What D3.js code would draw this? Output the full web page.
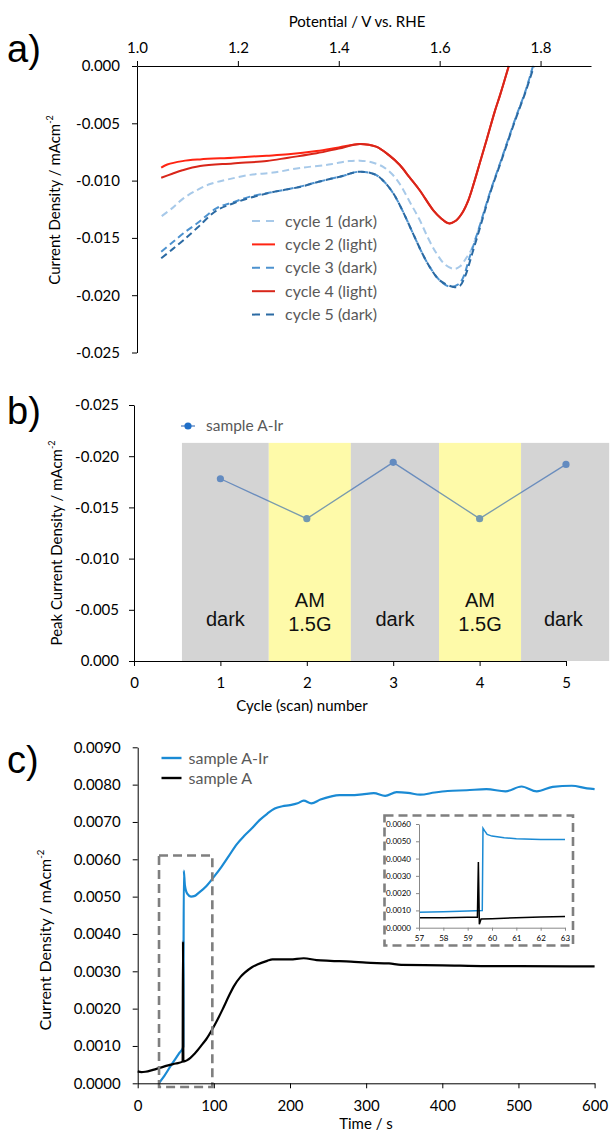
<!DOCTYPE html>
<html>
<head>
<meta charset="utf-8">
<script src="https://cdn.jsdelivr.net/npm/d3@7"></script>
<style>
body { margin: 0; background: #fff; }
svg text { font-family: Lato, sans-serif; }
</style>
</head>
<body>
<svg width="610" height="1132"></svg>
<script>
var svg = d3.select("svg");

// ---- panel a: cyclic scans (potential V, current density mA/cm2)
var cycleNames = ["cycle 1 (dark)", "cycle 2 (light)", "cycle 3 (dark)", "cycle 4 (light)", "cycle 5 (dark)"];
var cycleColors = ["#a7c9e9", "#ff2412", "#4d92cf", "#d8261a", "#2b6aa3"];
var cycleDashed = [true, false, true, false, true];

var cycle1V = [1.049, 1.07, 1.092, 1.12, 1.145, 1.18, 1.224, 1.27, 1.323, 1.38, 1.42, 1.442, 1.465, 1.488, 1.505, 1.521, 1.54, 1.56, 1.578, 1.593, 1.61, 1.628, 1.64, 1.652, 1.662, 1.679, 1.70, 1.722, 1.75, 1.77, 1.785];
var cycle1J = [-0.0131, -0.0124, -0.01155, -0.0108, -0.0103, -0.0099, -0.0095, -0.0093, -0.0089, -0.0086, -0.0083, -0.00826, -0.0084, -0.0088, -0.0094, -0.0103, -0.0118, -0.0134, -0.0151, -0.0163, -0.0173, -0.0177, -0.0175, -0.0168, -0.0161, -0.0140, -0.0110, -0.0082, -0.0046, -0.0022, 0];

var cycle2V = [1.048, 1.06, 1.09, 1.125, 1.19, 1.257, 1.30, 1.356, 1.40, 1.442, 1.474, 1.50, 1.521, 1.54, 1.56, 1.587, 1.603, 1.618, 1.632, 1.645, 1.657, 1.668, 1.68, 1.694, 1.709, 1.72, 1.737];
var cycle2J = [-0.00887, -0.0086, -0.0083, -0.00815, -0.0080, -0.00783, -0.0077, -0.00742, -0.0071, -0.0068, -0.00704, -0.0078, -0.00864, -0.0097, -0.01082, -0.01257, -0.0133, -0.01373, -0.0135, -0.0128, -0.0117, -0.0102, -0.0084, -0.0063, -0.0040, -0.0025, 0];

var cycle3V = [1.048, 1.07, 1.092, 1.12, 1.158, 1.19, 1.224, 1.27, 1.323, 1.36, 1.402, 1.442, 1.474, 1.49, 1.508, 1.525, 1.547, 1.565, 1.58, 1.60, 1.62, 1.635, 1.645, 1.66, 1.679, 1.70, 1.722, 1.75, 1.77, 1.785];
var cycle3J = [-0.0162, -0.0154, -0.0146, -0.0137, -0.0124, -0.0119, -0.0114, -0.0110, -0.01053, -0.0101, -0.00966, -0.00922, -0.00951, -0.0101, -0.01111, -0.0125, -0.0146, -0.0163, -0.01751, -0.0187, -0.01926, -0.0191, -0.0186, -0.0166, -0.0140, -0.0110, -0.0082, -0.0046, -0.0022, 0];

var cycle4V = [1.048, 1.07, 1.09, 1.125, 1.19, 1.257, 1.30, 1.356, 1.40, 1.442, 1.474, 1.50, 1.521, 1.54, 1.56, 1.587, 1.603, 1.618, 1.632, 1.645, 1.657, 1.668, 1.68, 1.694, 1.709, 1.72, 1.737];
var cycle4J = [-0.00975, -0.0094, -0.0091, -0.00873, -0.0085, -0.00829, -0.0080, -0.00762, -0.0072, -0.0068, -0.00704, -0.0078, -0.00864, -0.0097, -0.01082, -0.01257, -0.0133, -0.01373, -0.0135, -0.0128, -0.0117, -0.0102, -0.0084, -0.0063, -0.0040, -0.0025, 0];

var cycle5V = [1.048, 1.07, 1.092, 1.12, 1.158, 1.19, 1.224, 1.27, 1.323, 1.36, 1.402, 1.442, 1.474, 1.49, 1.508, 1.525, 1.547, 1.565, 1.58, 1.60, 1.63, 1.64, 1.65, 1.665, 1.682, 1.70, 1.722, 1.75, 1.77, 1.787];
var cycle5J = [-0.01678, -0.0160, -0.0152, -0.0141, -0.0126, -0.0120, -0.0115, -0.0110, -0.01055, -0.0101, -0.00966, -0.00922, -0.00951, -0.0101, -0.01111, -0.0125, -0.0146, -0.0163, -0.01751, -0.0187, -0.0193, -0.0192, -0.0184, -0.0163, -0.0138, -0.0111, -0.0083, -0.0047, -0.0023, 0];

var potentialTicks = [1.0, 1.2, 1.4, 1.6, 1.8];
var densityTicksA = [0, -0.005, -0.010, -0.015, -0.020, -0.025];

// ---- panel b: peak current per cycle
var cycleNumbers = [1, 2, 3, 4, 5];
var peakCurrent = [-0.0178, -0.0139, -0.0194, -0.0139, -0.0192];
var bandStart = [0.555, 1.56, 2.51, 3.53, 4.48];
var bandEnd = [1.56, 2.51, 3.53, 4.48, 5.5];
var bandType = ["dark", "light", "dark", "light", "dark"];
var bandTop = -0.0213;
var cycleTicks = [0, 1, 2, 3, 4, 5];
var densityTicksB = [0, -0.005, -0.010, -0.015, -0.020, -0.025];

// ---- panel c: chronoamperometry (time s, current density mA/cm2)
var timeAIr = [27.7, 35, 45, 55, 60, 60.5, 62, 65, 70, 75, 80, 90, 100, 110, 120, 130, 140, 150, 160, 170, 180, 190, 200, 210, 218, 228, 240, 253, 265, 280, 295, 310, 325, 340, 355, 371, 390, 407, 432, 458, 483, 504, 524, 545, 570, 590, 600];
var jAIr = [0, 0.0002, 0.00052, 0.00082, 0.00098, 0.0057, 0.0053, 0.00508, 0.0050, 0.00502, 0.0051, 0.00528, 0.00553, 0.0058, 0.0061, 0.0064, 0.00663, 0.00683, 0.00705, 0.00722, 0.00736, 0.00742, 0.00745, 0.0075, 0.00757, 0.0075, 0.0076, 0.00768, 0.00772, 0.00772, 0.00774, 0.00777, 0.0077, 0.0078, 0.00778, 0.00773, 0.00779, 0.00783, 0.00785, 0.00788, 0.00782, 0.00795, 0.00782, 0.00794, 0.00797, 0.0079, 0.00788];

var timeA = [0, 5, 10, 20, 30, 40, 50, 59, 59.5, 60, 65, 75, 85, 90, 100, 111, 120, 126, 135, 141, 150, 157, 170, 177, 200, 218, 235, 253, 280, 300, 330, 346, 400, 458, 500, 600];
var jA = [0.00032, 0.0003, 0.00031, 0.00036, 0.00042, 0.00048, 0.00053, 0.00058, 0.0038, 0.00058, 0.00062, 0.0008, 0.00105, 0.00118, 0.00152, 0.00196, 0.00235, 0.00259, 0.00285, 0.00297, 0.00311, 0.00318, 0.00328, 0.00332, 0.00332, 0.00335, 0.0033, 0.00328, 0.00326, 0.00323, 0.00321, 0.00317, 0.00316, 0.00314, 0.00314, 0.00313];

var timeTicks = [0, 100, 200, 300, 400, 500, 600];
var densityTicksC = [0, 0.001, 0.002, 0.003, 0.004, 0.005, 0.006, 0.007, 0.008, 0.009];
var zoomWindow = [28, 98, -0.0001, 0.0061]; // t0, t1, j0, j1

// inset (zoom around light switch-on)
var insetTimeAIr = [57, 58, 59, 59.6, 59.63, 59.7, 59.8, 60, 60.5, 61, 62, 63];
var insetJAIr = [0.0009, 0.00092, 0.00096, 0.001, 0.00575, 0.0056, 0.0054, 0.0053, 0.0052, 0.00515, 0.0051, 0.0051];
var insetTimeA = [57, 58, 59, 59.4, 59.44, 59.48, 59.55, 60, 61, 62, 63];
var insetJA = [0.00058, 0.00058, 0.0006, 0.0006, 0.0038, 0.0002, 0.0005, 0.00052, 0.00058, 0.00062, 0.00065];
var insetTimeTicks = [57, 58, 59, 60, 61, 62, 63];
var insetDensityTicks = [0, 0.001, 0.002, 0.003, 0.004, 0.005, 0.006];

var seriesNamesC = ["sample A-Ir", "sample A"];
var seriesColorsC = ["#1a8ad4", "#000000"];


function zip(xs, ys) {
    return xs.map(function(x, i) { return [x, ys[i]]; });
}

function styleAxis(g, size, color) {
    g.attr("font-family", "Lato, sans-serif").attr("font-size", size);
    g.select(".domain").attr("stroke", color || "#000");
    g.selectAll(".tick line").attr("stroke", color || "#000");
    g.selectAll(".tick text").attr("fill", "#000");
}

// y title with superscript -2
function yTitle(x, y, label, size) {
    var t = svg.append("text")
        .attr("transform", "translate(" + x + "," + y + ") rotate(-90)")
        .attr("text-anchor", "middle")
        .attr("font-size", size)
        .attr("fill", "#000");
    t.append("tspan").text(label);
    t.append("tspan").attr("font-size", size * 0.6).attr("dy", -size * 0.45).text("-2");
}

function panelLabel(x, y, txt) {
    svg.append("text").attr("x", x).attr("y", y)
        .style("font-family", "'Liberation Sans', Arial, sans-serif")
        .attr("font-size", 38).text(txt);
}

/*
 * panel a
 */
var xa = d3.scaleLinear().domain([1.0, 1.9]).range([137, 591]);
var ya = d3.scaleLinear().domain([0, -0.025]).range([66, 352.5]);

var lineA = d3.line()
    .x(function(d) { return xa(d[0]); })
    .y(function(d) { return ya(d[1]); })
    .curve(d3.curveCatmullRom.alpha(0.5));

var cycleData = [zip(cycle1V, cycle1J), zip(cycle2V, cycle2J), zip(cycle3V, cycle3J), zip(cycle4V, cycle4J), zip(cycle5V, cycle5J)];

svg.append("g").attr("class", "cycles")
    .selectAll("path")
    .data(cycleData)
    .enter().append("path")
    .attr("d", lineA)
    .attr("fill", "none")
    .attr("stroke", function(d, i) { return cycleColors[i]; })
    .attr("stroke-width", 2)
    .attr("stroke-dasharray", function(d, i) { return cycleDashed[i] ? "7,4" : null; });

var gxa = svg.append("g").attr("transform", "translate(0," + ya(0) + ")")
    .call(d3.axisTop(xa).tickValues(potentialTicks).tickFormat(function(d) { return d.toFixed(1); })
        .tickSize(5).tickSizeOuter(0).tickPadding(8));
styleAxis(gxa, 15);

var gya = svg.append("g").attr("transform", "translate(" + xa(1.0) + ",0)")
    .call(d3.axisLeft(ya).tickValues(densityTicksA).tickFormat(function(d) { return d.toFixed(3); })
        .tickSize(5).tickSizeOuter(0).tickPadding(12));
styleAxis(gya, 15);

svg.append("text").attr("x", 357).attr("y", 27).attr("text-anchor", "middle")
    .attr("font-size", 15).text("Potential / V vs. RHE");
yTitle(60, 200, "Current Density / mAcm", 15);
panelLabel(7, 62, "a)");

// legend a
var legA = svg.append("g").attr("class", "legend-a")
    .selectAll("g").data(cycleNames).enter().append("g")
    .attr("transform", function(d, i) { return "translate(252," + (221 + i * 23.4) + ")"; });
legA.append("line").attr("x1", 0).attr("x2", 23).attr("y1", 0).attr("y2", 0)
    .attr("stroke", function(d, i) { return cycleColors[i]; })
    .attr("stroke-width", 2)
    .attr("stroke-dasharray", function(d, i) { return cycleDashed[i] ? "8,6" : null; });
legA.append("text").attr("x", 33).attr("dy", "0.35em").attr("font-size", 16)
    .attr("fill", "#595959").text(function(d) { return d; });

/*
 * panel b
 */
var xb = d3.scaleLinear().domain([0, 5]).range([134, 566]);
var yb = d3.scaleLinear().domain([0, -0.025]).range([661, 405]);

svg.append("g").attr("class", "bands")
    .selectAll("rect").data(bandType).enter().append("rect")
    .attr("x", function(d, i) { return xb(bandStart[i]); })
    .attr("width", function(d, i) { return xb(bandEnd[i]) - xb(bandStart[i]); })
    .attr("y", yb(bandTop))
    .attr("height", yb(0) - yb(bandTop))
    .attr("fill", function(d) { return d === "dark" ? "#d4d4d4" : "#fefaa9"; });

var bandLabels = svg.append("g").attr("class", "band-labels")
    .selectAll("text").data(bandType).enter().append("text")
    .attr("x", function(d, i) { return xb((bandStart[i] + Math.min(bandEnd[i], 5.46)) / 2); })
    .attr("y", function(d) { return d === "dark" ? 626 : 607; })
    .attr("text-anchor", "middle")
    .style("font-family", "'Liberation Sans', Arial, sans-serif")
    .attr("font-size", 20)
    .attr("fill", "#111");
bandLabels.each(function(d) {
    var t = d3.select(this);
    if (d === "dark") { t.text("dark"); return; }
    t.append("tspan").text("AM");
    t.append("tspan").attr("x", t.attr("x")).attr("dy", 24).text("1.5G");
});

var gxb = svg.append("g").attr("transform", "translate(0," + yb(0) + ")")
    .call(d3.axisBottom(xb).tickValues(cycleTicks).tickFormat(d3.format("d"))
        .tickSize(5).tickSizeOuter(0).tickPadding(11));
styleAxis(gxb, 15);

var gyb = svg.append("g").attr("transform", "translate(" + xb(0) + ",0)")
    .call(d3.axisLeft(yb).tickValues(densityTicksB).tickFormat(function(d) { return d.toFixed(3); })
        .tickSize(5).tickSizeOuter(0).tickPadding(10));
styleAxis(gyb, 15);

var peakG = svg.append("g").attr("class", "peaks").attr("opacity", 0.62);
peakG.append("path")
    .datum(zip(cycleNumbers, peakCurrent))
    .attr("d", d3.line().x(function(d) { return xb(d[0]); }).y(function(d) { return yb(d[1]); }))
    .attr("fill", "none").attr("stroke", "#2a62b0").attr("stroke-width", 1.3);
peakG.selectAll("circle").data(zip(cycleNumbers, peakCurrent)).enter().append("circle")
    .attr("cx", function(d) { return xb(d[0]); })
    .attr("cy", function(d) { return yb(d[1]); })
    .attr("r", 3.6).attr("fill", "#1f5fb5");

svg.append("line").attr("x1", 181).attr("x2", 195).attr("y1", 426).attr("y2", 426)
    .attr("stroke", "#2a62b0").attr("stroke-width", 1.3).attr("opacity", 0.8);
svg.append("circle").attr("cx", 188).attr("cy", 426).attr("r", 3.6).attr("fill", "#1f6fc8");
svg.append("text").attr("x", 206).attr("y", 426).attr("dy", "0.35em").attr("font-size", 15.5)
    .attr("fill", "#595959").text("sample A-Ir");

svg.append("text").attr("x", 302).attr("y", 711).attr("text-anchor", "middle")
    .attr("font-size", 15).text("Cycle (scan) number");
yTitle(62, 543, "Peak Current Density / mAcm", 15);
panelLabel(7, 424, "b)");

/*
 * panel c
 */
var xc = d3.scaleLinear().domain([0, 600]).range([137.7, 594.6]);
var yc = d3.scaleLinear().domain([0, 0.009]).range([1083.3, 747.3]);

var lineC = d3.line()
    .x(function(d) { return xc(d[0]); })
    .y(function(d) { return yc(d[1]); })
    .curve(d3.curveMonotoneX);

var seriesC = [zip(timeAIr, jAIr), zip(timeA, jA)];
svg.append("g").attr("class", "transients")
    .selectAll("path").data(seriesC).enter().append("path")
    .attr("d", lineC)
    .attr("fill", "none")
    .attr("stroke", function(d, i) { return seriesColorsC[i]; })
    .attr("stroke-width", 2.2);

svg.append("rect")
    .attr("x", xc(zoomWindow[0])).attr("y", yc(zoomWindow[3]))
    .attr("width", xc(zoomWindow[1]) - xc(zoomWindow[0]))
    .attr("height", yc(zoomWindow[2]) - yc(zoomWindow[3]))
    .attr("fill", "none").attr("stroke", "#7f7f7f").attr("stroke-width", 2.6)
    .attr("stroke-dasharray", "9,5");

var gxc = svg.append("g").attr("transform", "translate(0," + yc(0) + ")")
    .call(d3.axisBottom(xc).tickValues(timeTicks).tickFormat(d3.format("d"))
        .tickSize(5).tickSizeOuter(0).tickPadding(12));
styleAxis(gxc, 15);

var gyc = svg.append("g").attr("transform", "translate(" + xc(0) + ",0)")
    .call(d3.axisLeft(yc).tickValues(densityTicksC).tickFormat(function(d) { return d.toFixed(4); })
        .tickSize(5).tickSizeOuter(0).tickPadding(12));
styleAxis(gyc, 15);

svg.append("text").attr("x", 366).attr("y", 1129).attr("text-anchor", "middle")
    .attr("font-size", 15).text("Time / s");
yTitle(51, 940, "Current Density / mAcm", 16);
panelLabel(7, 773, "c)");

var legC = svg.append("g").attr("class", "legend-c")
    .selectAll("g").data(seriesNamesC).enter().append("g")
    .attr("transform", function(d, i) { return "translate(161.5," + (758 + i * 20) + ")"; });
legC.append("line").attr("x1", 0).attr("x2", 20).attr("y1", 0).attr("y2", 0)
    .attr("stroke", function(d, i) { return seriesColorsC[i]; }).attr("stroke-width", 2.4);
legC.append("text").attr("x", 27).attr("dy", "0.35em").attr("font-size", 16)
    .attr("fill", "#595959").text(function(d) { return d; });

// inset
svg.append("rect").attr("x", 384.5).attr("y", 815.5).attr("width", 188.5).attr("height", 130)
    .attr("fill", "#fff").attr("stroke", "#7f7f7f").attr("stroke-width", 2.6)
    .attr("stroke-dasharray", "9,5");

var xi = d3.scaleLinear().domain([57, 63]).range([419, 565]);
var yi = d3.scaleLinear().domain([0, 0.006]).range([927.7, 824]);
var lineI = d3.line()
    .x(function(d) { return xi(d[0]); })
    .y(function(d) { return yi(d[1]); });

svg.append("g").attr("class", "inset")
    .selectAll("path").data([zip(insetTimeAIr, insetJAIr), zip(insetTimeA, insetJA)])
    .enter().append("path")
    .attr("d", lineI)
    .attr("fill", "none")
    .attr("stroke", function(d, i) { return seriesColorsC[i]; })
    .attr("stroke-width", 1.5);

var gxi = svg.append("g").attr("transform", "translate(0," + yi(0) + ")")
    .call(d3.axisBottom(xi).tickValues(insetTimeTicks).tickFormat(d3.format("d"))
        .tickSize(3).tickSizeOuter(0).tickPadding(5));
styleAxis(gxi, 8, "#888");

var gyi = svg.append("g").attr("transform", "translate(" + xi(57) + ",0)")
    .call(d3.axisLeft(yi).tickValues(insetDensityTicks).tickFormat(function(d) { return d.toFixed(4); })
        .tickSize(3).tickSizeOuter(0).tickPadding(5));
styleAxis(gyi, 8, "#888");
</script>
</body>
</html>
